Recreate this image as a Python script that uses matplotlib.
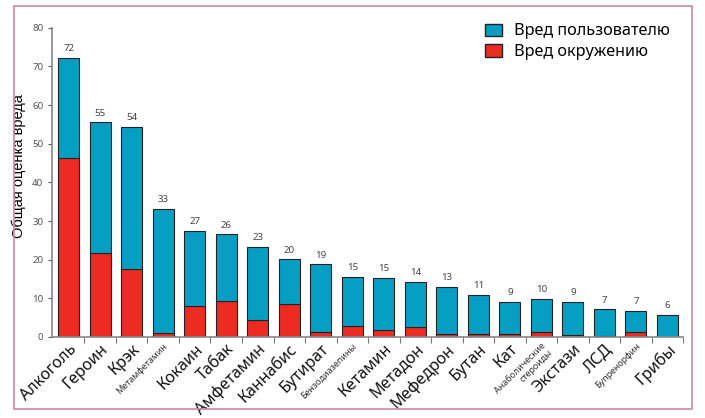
import numpy as np
import matplotlib
matplotlib.use("Agg")
from matplotlib import pyplot as plt
from matplotlib.patches import Rectangle, Patch

plt.rcParams["font.family"] = ["Noto Sans", "DejaVu Sans"]

drugs = ["Алкоголь", "Героин", "Крэк", "Метамфетамин", "Кокаин", "Табак",
         "Амфетамин", "Каннабис", "Бутират", "Бензодиазепины", "Кетамин",
         "Метадон", "Мефедрон", "Бутан", "Кат", "Анаболические\nстероиды",
         "Экстази", "ЛСД", "Бупренорфин", "Грибы"]
total = [72.2, 55.5, 54.3, 33.1, 27.5, 26.6, 23.3, 20.1, 18.8, 15.5, 15.3,
         14.2, 12.9, 10.9, 9.1, 9.8, 9.1, 7.2, 6.7, 5.7]
others = [46.2, 21.8, 17.6, 1.1, 7.9, 9.2, 4.4, 8.5, 1.2, 2.8, 1.8,
          2.5, 0.9, 0.8, 0.7, 1.3, 0.6, 0.3, 1.2, 0.0]
labels = [72, 55, 54, 33, 27, 26, 23, 20, 19, 15, 15, 14, 13, 11, 9, 10, 9, 7, 7, 6]
small = ["Метамфетамин", "Бензодиазепины", "Анаболические\nстероиды", "Бупренорфин"]

blue = "#069ec3"
red = "#ec2b23"

fig = plt.figure(figsize=(7.05, 4.18), dpi=100)
fig.patches.append(Rectangle((0.02, 0.0215), 0.961, 0.964, transform=fig.transFigure,
                             fill=False, edgecolor="#c98aa6", linewidth=1.2))
ax = fig.add_axes([0.0742, 0.1938, 0.8948, 0.7399])

x = np.arange(len(drugs))
user = np.array(total) - np.array(others)
ax.bar(x, others, width=0.67, color=red, edgecolor="#222222", linewidth=0.8)
ax.bar(x, user, bottom=others, width=0.67, color=blue, edgecolor="#222222", linewidth=0.8)
for i in range(len(x)):
    ax.text(x[i], total[i] + 1.2, str(labels[i]), ha="center", va="bottom",
            fontsize=7, color="#444444")

ax.set_xlim(-0.52, len(x) - 0.51)
ax.set_ylim(0, 80)
ax.set_yticks(range(0, 81, 10))
ax.tick_params(axis="y", labelsize=7, colors="#555555", length=3, width=0.8)
ax.set_xticks(x + 0.5, minor=True)
ax.set_xticks(x)
ax.tick_params(axis="x", which="major", length=0, pad=3)
ax.tick_params(axis="x", which="minor", length=4, width=0.8, colors="#777777")
ax.set_xticklabels(drugs, rotation=45, ha="right", rotation_mode="anchor")
for lab in ax.get_xticklabels():
    if lab.get_text() in small:
        lab.set_fontsize(6.5)
        lab.set_color("#333333")
        lab.set_linespacing(1.0)
    else:
        lab.set_fontsize(11.6)
        lab.set_color("#111111")

for s in ["top", "right"]:
    ax.spines[s].set_visible(False)
for s in ["left", "bottom"]:
    ax.spines[s].set_color("#888888")
    ax.spines[s].set_linewidth(1.2)

ax.set_ylabel("Общая оценка вреда", fontsize=10.5, family="Liberation Sans")
ax.yaxis.set_label_coords(-0.042, 0.553)

handles = [Patch(facecolor=blue, edgecolor="#222222", label="Вред пользователю"),
           Patch(facecolor=red, edgecolor="#222222", label="Вред окружению")]
ax.legend(handles=handles, loc="upper left", bbox_to_anchor=(0.675, 1.035), frameon=False,
          fontsize=11.7, handlelength=1.1, handleheight=0.8, handletextpad=0.7,
          labelspacing=0.3, borderaxespad=0)

fig.savefig("out.png", dpi=100)
